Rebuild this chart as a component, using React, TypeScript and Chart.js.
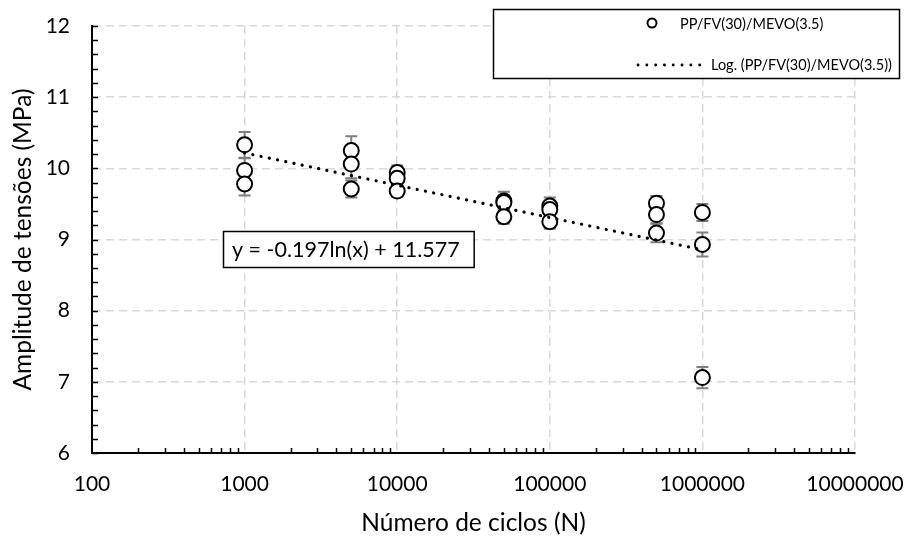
import { useEffect, useRef } from "react";
import { Chart, registerables } from "chart.js";

Chart.register(...registerables);

// ---- data ----
const cycles = [
  1000, 1000, 1000,
  5000, 5000, 5000,
  10000, 10000, 10000,
  50000, 50000, 50000,
  100000, 100000, 100000,
  500000, 500000, 500000,
  1000000, 1000000, 1000000,
];
const stress = [
  10.33, 9.97, 9.78,
  10.25, 10.06, 9.71,
  9.94, 9.86, 9.68,
  9.54, 9.52, 9.32,
  9.47, 9.42, 9.25,
  9.51, 9.35, 9.09,
  9.38, 8.93, 7.06,
];
const stressErr = [
  0.18, 0.17, 0.16,
  0.2, 0.2, 0.12,
  0.1, 0.1, 0.08,
  0.13, 0.1, 0.1,
  0.12, 0.1, 0.1,
  0.1, 0.12, 0.13,
  0.12, 0.17, 0.15,
];
const xTickValues = [100, 1000, 10000, 100000, 1000000, 10000000];
const yTickValues = [6, 7, 8, 9, 10, 11, 12];
const trendSlope = -0.197;
const trendIntercept = 11.577;
const trendRange = [1000, 1000000];

const seriesLabel = "PP/FV(30)/MEVO(3.5)";
const trendLabel = "Log. (PP/FV(30)/MEVO(3.5))";
const equationText = "y = -0.197ln(x) + 11.577";
const xTitle = "Número de ciclos (N)";
const yTitle = "Amplitude de tensões (MPa)";

const FONT = "Lato, 'Open Sans', sans-serif";
const GRID = "#d9d9d9";
const ERR = "#7f7f7f";

const errorBarPlugin = {
  id: "errorBars",
  beforeDatasetsDraw(chart: any) {
    const { ctx, scales } = chart;
    const xs = scales.x;
    const ys = scales.y;
    ctx.save();
    ctx.strokeStyle = ERR;
    ctx.lineWidth = 2;
    for (let i = 0; i < cycles.length; i++) {
      const px = xs.getPixelForValue(cycles[i]);
      const top = ys.getPixelForValue(stress[i] + stressErr[i]);
      const bot = ys.getPixelForValue(stress[i] - stressErr[i]);
      ctx.beginPath();
      ctx.moveTo(px, top);
      ctx.lineTo(px, bot);
      ctx.moveTo(px - 6, top);
      ctx.lineTo(px + 6, top);
      ctx.moveTo(px - 6, bot);
      ctx.lineTo(px + 6, bot);
      ctx.stroke();
    }
    ctx.restore();
  },
};

const decorPlugin = {
  id: "decor",
  afterDraw(chart: any) {
    const { ctx, scales, chartArea } = chart;
    const xs = scales.x;
    const ys = scales.y;
    ctx.save();
    // minor ticks
    ctx.strokeStyle = "#000";
    ctx.lineWidth = 1.5;
    ctx.beginPath();
    for (let d = 2; d < 7; d++) {
      for (let m = 2; m <= 9; m++) {
        const v = m * Math.pow(10, d);
        const px = Math.round(xs.getPixelForValue(v)) + 0.5;
        ctx.moveTo(px, chartArea.bottom);
        ctx.lineTo(px, chartArea.bottom - 5);
      }
    }
    for (let k = 0; k <= 30; k++) {
      const v = 6 + k * 0.2;
      const py = Math.round(ys.getPixelForValue(v)) + 0.5;
      ctx.moveTo(chartArea.left, py);
      ctx.lineTo(chartArea.left + 6, py);
    }
    ctx.stroke();

    // equation box
    ctx.font = `21.5px ${FONT}`;
    ctx.textBaseline = "middle";
    const ew = ctx.measureText(equationText).width;
    ctx.fillStyle = "#fff";
    ctx.fillRect(223, 231, ew + 24, 37);
    ctx.strokeStyle = "#000";
    ctx.lineWidth = 1.5;
    ctx.strokeRect(223.5, 231.5, ew + 23, 36);
    ctx.fillStyle = "#000";
    ctx.fillText(equationText, 232, 250);

    // legend
    ctx.fillStyle = "#fff";
    ctx.fillRect(493, 9, 407, 70);
    ctx.strokeStyle = "#000";
    ctx.lineWidth = 1.5;
    ctx.strokeRect(493.5, 9.5, 406, 69);
    ctx.beginPath();
    ctx.arc(652, 23, 4.5, 0, Math.PI * 2);
    ctx.lineWidth = 2;
    ctx.stroke();
    ctx.font = `14.5px ${FONT}`;
    ctx.fillStyle = "#000";
    ctx.fillText(seriesLabel, 680, 24);
    ctx.beginPath();
    ctx.setLineDash([0.1, 8.7]);
    ctx.lineCap = "round";
    ctx.lineWidth = 2.8;
    ctx.moveTo(638, 65);
    ctx.lineTo(708, 65);
    ctx.stroke();
    ctx.setLineDash([]);
    ctx.fillText(trendLabel, 711, 65);
    ctx.restore();
  },
};

const zeroPad = (s: any) => {
  s.paddingTop = 0;
  s.paddingBottom = 0;
  s.paddingLeft = 0;
  s.paddingRight = 0;
};

export default function App() {
  const ref = useRef<HTMLCanvasElement | null>(null);
  useEffect(() => {
    document.body.style.margin = "0";
    const trendY = trendRange.map((x) => trendSlope * Math.log(x) + trendIntercept);
    const chart = new Chart(ref.current as HTMLCanvasElement, {
      type: "scatter",
      data: {
        datasets: [
          {
            label: seriesLabel,
            data: cycles.map((x, i) => ({ x, y: stress[i] })),
            pointRadius: 7.5,
            pointHoverRadius: 7.5,
            pointBorderWidth: 2,
            pointBackgroundColor: "#fff",
            pointBorderColor: "#000",
            showLine: false,
            order: 2,
          } as any,
          {
            label: trendLabel,
            type: "line",
            data: trendRange.map((x, i) => ({ x, y: trendY[i] })),
            borderColor: "#000",
            borderWidth: 3.2,
            borderDash: [0.1, 8.3],
            borderCapStyle: "round",
            pointRadius: 0,
            fill: false,
            order: 1,
          } as any,
        ],
      },
      options: {
        animation: false,
        responsive: false,
        maintainAspectRatio: false,
        layout: { padding: { top: 26, right: 52, left: 0, bottom: 0 } },
        plugins: {
          legend: { display: false },
          tooltip: { enabled: false },
        },
        scales: {
          x: {
            type: "logarithmic",
            min: 100,
            max: 10000000,
            afterBuildTicks: (s: any) => {
              s.ticks = xTickValues.map((v) => ({ value: v }));
            },
            afterFit: (s: any) => {
              s.height = 86;
              zeroPad(s);
            },
            ticks: {
              callback: (v: any) => String(v),
              font: { family: FONT, size: 21 },
              color: "#000",
              padding: 19,
              maxRotation: 0,
              autoSkip: false,
            },
            grid: { color: GRID, lineWidth: 1.5, drawTicks: false },
            border: { display: true, color: "#000", width: 2, dash: [8, 5] },
            title: {
              display: true,
              text: xTitle,
              font: { family: FONT, size: 24.5 },
              color: "#000",
              padding: { top: 0, bottom: 1 },
            },
          },
          y: {
            type: "linear",
            min: 6,
            max: 12,
            afterBuildTicks: (s: any) => {
              s.ticks = yTickValues.map((v) => ({ value: v }));
            },
            afterFit: (s: any) => {
              s.width = 92;
              zeroPad(s);
            },
            ticks: {
              callback: (v: any) => String(v),
              font: { family: FONT, size: 21 },
              color: "#000",
              padding: 22,
            },
            grid: { color: GRID, lineWidth: 1.5, drawTicks: false },
            border: { display: true, color: "#000", width: 2, dash: [8, 5] },
            title: {
              display: true,
              text: yTitle,
              font: { family: FONT, size: 24.5 },
              color: "#000",
              padding: { top: 8, bottom: 0 },
            },
          },
        },
      },
      plugins: [errorBarPlugin, decorPlugin],
    });
    return () => chart.destroy();
  }, []);
  return (
    <div style={{ position: "relative", width: 907, height: 539 }}>
      <canvas ref={ref} width={907} height={539} />
    </div>
  );
}
